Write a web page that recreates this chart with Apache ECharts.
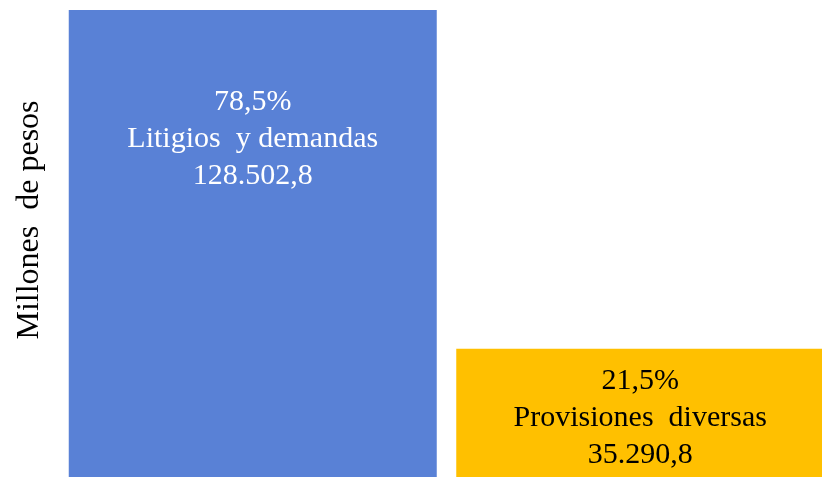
<!DOCTYPE html>
<html>
<head>
<meta charset="utf-8">
<script src="https://cdn.jsdelivr.net/npm/echarts@6/dist/echarts.min.js"></script>
<style>
  html, body { margin: 0; padding: 0; background: #fff; }
  #chart { width: 822px; height: 477px; }
</style>
</head>
<body>
<div id="chart"></div>
<script>
// datos del grafico
const categorias = ['Litigios  y demandas', 'Provisiones  diversas'];
const valores = [128502.8, 35290.8];
const porcentajes = ['78,5%', '21,5%'];
const montos = ['128.502,8', '35.290,8'];
const colores = ['#5981D6', '#FFC000'];
const colorTexto = ['#ffffff', '#000000'];

const chart = echarts.init(document.getElementById('chart'));

const datos = valores.map((v, i) => ({
    value: v,
    itemStyle: { color: colores[i] },
    label: {
        show: true,
        position: i === 0 ? 'insideTop' : 'inside',
        distance: i === 0 ? 74 : 0,
        offset: i === 0 ? [0, 0] : [0, 5],
        color: colorTexto[i],
        formatter: porcentajes[i] + '\n' + categorias[i] + '\n' + montos[i]
    }
}));

chart.setOption({
    animation: false,
    textStyle: { fontFamily: 'Liberation Serif' },
    grid: { left: 59, width: 775, top: 10, bottom: 0, outerBoundsMode: 'none' },
    xAxis: {
        type: 'category',
        data: categorias,
        axisLine: { show: false },
        axisTick: { show: false },
        axisLabel: { show: false }
    },
    yAxis: {
        type: 'value',
        min: 0,
        max: valores[0],
        axisLine: { show: false },
        axisTick: { show: false },
        axisLabel: { show: false },
        splitLine: { show: false }
    },
    graphic: [{
        type: 'text',
        x: 30,
        y: 220,
        rotation: Math.PI / 2,
        style: {
            text: 'Millones  de pesos',
            fontFamily: 'Liberation Serif',
            fontSize: 32,
            fill: '#000',
            align: 'center',
            verticalAlign: 'middle'
        }
    }],
    series: [{
        type: 'bar',
        data: datos,
        barWidth: 368,
        label: {
            fontFamily: 'Liberation Serif',
            fontSize: 30,
            lineHeight: 37
        }
    }]
});
</script>
</body>
</html>
